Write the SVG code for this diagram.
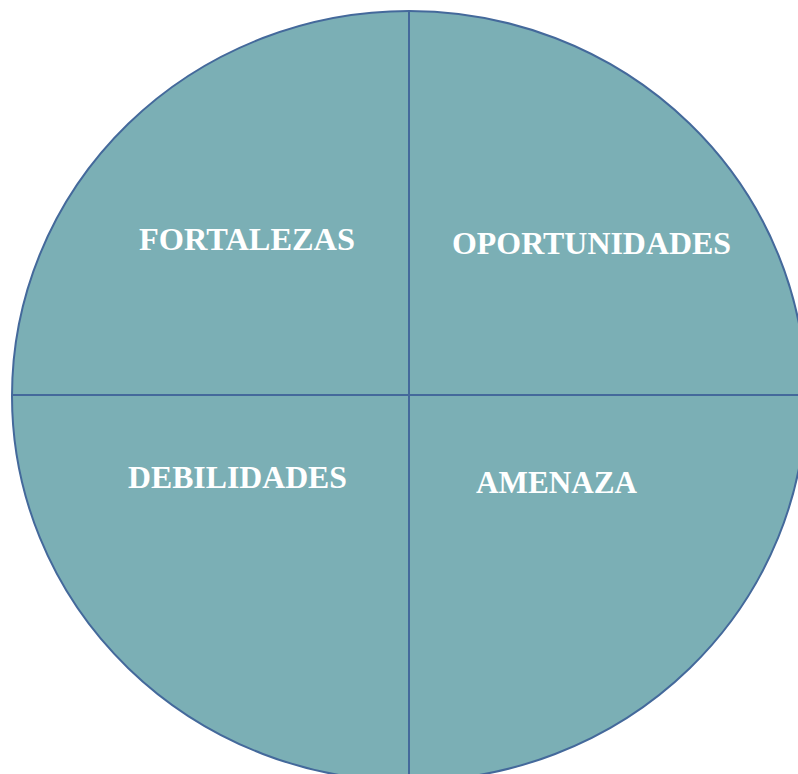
<svg xmlns="http://www.w3.org/2000/svg" width="798" height="774" viewBox="0 0 798 774">
<style>
.lbl{font-family:"Liberation Serif","Times New Roman",serif;font-weight:bold;font-size:32.2px;fill:#ffffff}
.ln{stroke:#44699B;stroke-width:2;fill:none}
</style>
<rect width="798" height="774" fill="#ffffff"/>
<g id="circle">
<ellipse cx="409" cy="396" rx="397" ry="385" fill="#7BAFB5" stroke="#44699B" stroke-width="2"/>
</g>
<g id="connectors">
<line class="ln" x1="409" y1="11" x2="409" y2="781"/>
<line class="ln" x1="12" y1="395" x2="806" y2="395"/>
</g>
<g id="fortalezas"><text class="lbl" x="139" y="250" textLength="216" lengthAdjust="spacingAndGlyphs">FORTALEZAS</text></g>
<g id="oportunidades"><text class="lbl" x="452" y="254" textLength="279" lengthAdjust="spacingAndGlyphs">OPORTUNIDADES</text></g>
<g id="debilidades"><text class="lbl" x="128" y="488" textLength="219" lengthAdjust="spacingAndGlyphs">DEBILIDADES</text></g>
<g id="amenaza"><text class="lbl" x="476" y="493" textLength="161" lengthAdjust="spacingAndGlyphs">AMENAZA</text></g>
</svg>
